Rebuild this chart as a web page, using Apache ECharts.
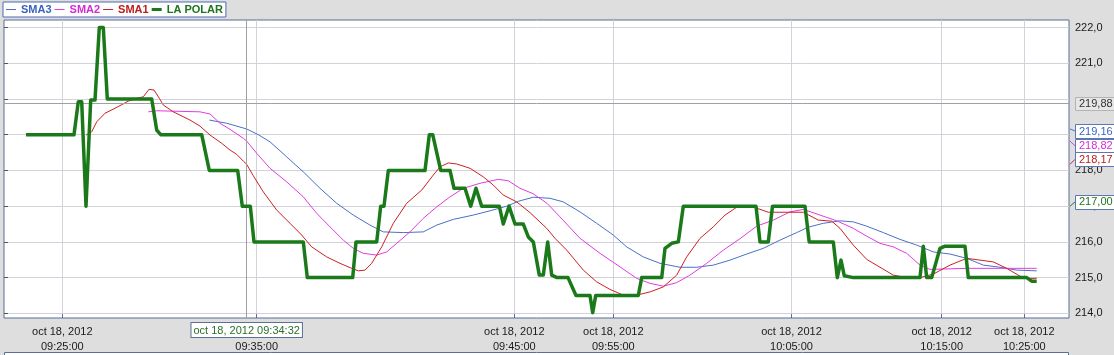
<!DOCTYPE html>
<html>
<head>
<meta charset="utf-8">
<script src="https://cdn.jsdelivr.net/npm/echarts@6/dist/echarts.min.js"></script>
<style>
html,body{margin:0;padding:0;background:#dedede;}
#c{width:1114px;height:355px;}
</style>
</head>
<body>
<div id="c"></div>
<script>
// ---- data (x = trade sequence position, y = price) ----
const xTickValues = [58.3, 252.7, 510.3, 609.3, 787.5, 937.7, 1020.3];
const xTickDate = 'oct 18, 2012';
const xTickTimes = ['09:25:00', '09:35:00', '09:45:00', '09:55:00', '10:05:00', '10:15:00', '10:25:00'];
const yTickValues = [214, 215, 216, 217, 218, 219, 220, 221, 222];

const laPolar = [[22,219.0],[70,219.0],[74.3,219.92],[77.7,219.92],[82,217.0],[86.7,219.97],[91,219.97],[95.3,222.0],[99.3,222.0],[103.3,220.0],[147.7,220.0],[152.7,219.13],[156.7,219.0],[197.7,219.0],[205.3,218.0],[233.7,218.0],[238.3,217.0],[246.3,217.0],[250,216.0],[299.3,216.0],[303.3,215.0],[348.7,215.0],[352,216.0],[372.7,216.0],[376.7,217.0],[380,217.0],[384.3,218.0],[421,218.0],[425.3,219.0],[428.7,219.0],[436.7,218.0],[446,218.0],[450,217.5],[461,217.5],[466.7,217.0],[472,217.5],[477.7,217.0],[495.3,217.0],[499.3,216.5],[505,217.0],[511,216.5],[519.3,216.5],[524.3,216.14],[529.3,216.0],[535.3,215.07],[539.3,215.07],[543.7,216.0],[547.7,215.07],[553,215.0],[564,215.0],[572,214.5],[586,214.5],[588.7,214.02],[591.7,214.5],[634.3,214.5],[637.7,215.0],[657.7,215.0],[661,215.82],[667.7,215.96],[674.3,216.0],[679.3,217.0],[752,217.0],[756,216.0],[764.3,216.0],[768.5,217.0],[801,217.0],[805.2,216.0],[829.3,216.0],[833.3,215.0],[837,215.49],[840.3,215.05],[849.3,215.0],[916,215.0],[919.3,215.88],[922.7,215.0],[927.7,215.0],[936,215.82],[941,215.88],[961,215.88],[964.3,215.0],[1022.7,215.0],[1027.7,214.9],[1032.7,214.9]];

const sma1 = [[82,218.99],[87.7,219.08],[92.7,219.36],[101,219.6],[111,219.74],[124.3,219.94],[132.7,220.02],[139.3,220.06],[145,220.27],[150,220.25],[155.3,220.02],[159.3,219.83],[169.3,219.64],[186,219.41],[196,219.24],[206,218.99],[217.7,218.76],[226,218.57],[232.7,218.45],[239.3,218.26],[242.7,218.17],[249.3,217.85],[259.3,217.4],[272.7,216.89],[286,216.52],[297.7,216.19],[307.7,215.86],[322.7,215.58],[336,215.4],[347.7,215.26],[354.3,215.19],[361,215.21],[367.7,215.4],[377.7,215.86],[389.3,216.52],[402.7,217.08],[417.7,217.45],[429.3,217.87],[436,218.1],[444.3,218.21],[452.7,218.18],[466,218.06],[479.3,217.82],[489.3,217.59],[499.3,217.31],[512.7,217.12],[526,216.82],[542.7,216.38],[551,216.1],[562.7,215.77],[579.3,215.21],[592.7,214.88],[606,214.67],[619.3,214.51],[632.7,214.51],[646,214.6],[659.3,214.74],[672.7,215.07],[682.7,215.58],[696,216.1],[709.3,216.42],[721,216.75],[732.7,216.97],[744,217.0],[752,216.95],[764.3,216.83],[799.3,216.83],[814.3,216.61],[827.7,216.58],[836,216.38],[849.3,215.91],[862.7,215.51],[876,215.29],[889.3,215.07],[902.7,215.0],[916,215.0],[929.3,215.1],[946,215.35],[962.7,215.54],[976,215.49],[989.3,215.44],[1002.7,215.26],[1016,215.04],[1026,214.98],[1032.7,214.98]];

const sma2 = [[144.3,219.64],[152.7,219.67],[196,219.64],[206,219.58],[216,219.32],[226,219.15],[239.3,218.9],[242.7,218.82],[252.7,218.48],[266,218.06],[282.7,217.68],[299.3,217.26],[312.7,216.8],[326,216.42],[339.3,216.05],[349.3,215.82],[359.3,215.68],[372.7,215.63],[382.7,215.72],[392.7,215.96],[406,216.28],[419.3,216.66],[432.7,216.98],[446,217.26],[459.3,217.5],[476,217.64],[494.3,217.75],[504.3,217.71],[516,217.5],[529,217.35],[543,217.08],[556,216.7],[576,216.1],[596,215.68],[616,215.3],[632.7,214.98],[646,214.84],[659.3,214.76],[672.7,214.86],[686,215.07],[702.7,215.4],[719.3,215.77],[736,216.09],[752.7,216.44],[769.3,216.61],[786,216.84],[799.3,216.91],[816,216.75],[832.7,216.59],[849.3,216.38],[862.7,216.16],[876,215.96],[889.3,215.86],[902.7,215.68],[916,215.35],[926,215.23],[962.7,215.26],[1032.7,215.26]];

const sma3 = [[205.3,219.41],[222.7,219.32],[242.7,219.16],[254.3,219.0],[266,218.8],[282.7,218.38],[299.3,217.96],[316,217.5],[332.7,217.08],[349.3,216.75],[366,216.47],[379.3,216.28],[399.3,216.26],[419.3,216.28],[432.7,216.47],[449.3,216.63],[469.3,216.75],[486,216.87],[502.7,217.0],[514.7,217.14],[529.3,217.25],[546,217.22],[559.3,217.12],[576,216.84],[592.7,216.52],[609.3,216.19],[622.7,215.86],[639.3,215.58],[656,215.4],[676,215.29],[692.7,215.29],[709.3,215.35],[726,215.49],[742.7,215.66],[759.3,215.82],[776,216.05],[792.7,216.26],[804,216.41],[819.3,216.52],[836,216.59],[849.3,216.56],[862.7,216.44],[879.3,216.26],[896,216.07],[912.7,215.91],[929.3,215.72],[946,215.66],[962.7,215.54],[979.3,215.35],[996,215.29],[1012.7,215.21],[1032.7,215.19]];

// crosshair
const crossX = 242.7;
const crossY = 219.88;
const crossXLabel = 'oct 18, 2012 09:34:32';
// values of each series at the crosshair
const tagNames = ['SMA3', 'SMA2', 'SMA1', 'LA POLAR'];
const tagValues = [219.16, 218.82, 218.17, 217.00];

// ---- styles ----
const FONT = '"Liberation Sans", Arial, sans-serif';
const colors = { 'SMA3': '#4a70c8', 'SMA2': '#e03ce0', 'SMA1': '#cc2222', 'LA POLAR': '#1a7a1a' };
const textColors = { 'SMA3': '#3a62c0', 'SMA2': '#d42ad4', 'SMA1': '#c01c1c', 'LA POLAR': '#1d751d' };
const tagOffsets = [2, 4.6, -5, -4.2];
const fmtNum = (v, d) => v.toFixed(d).replace('.', ',');
// axis labels hidden where the crosshair price box covers them
const yLabelValues = yTickValues.filter(v => Math.abs(v - crossY) > 0.3);

const chart = echarts.init(document.getElementById('c'), null, { renderer: 'canvas' });

function lineSeries(name, data, width, z) {
  return {
    name, type: 'line', data, z,
    showSymbol: false, symbol: 'none', silent: true,
    itemStyle: { color: colors[name] },
    lineStyle: { color: colors[name], width, join: 'round' },
    emphasis: { disabled: true }
  };
}

const polarSeries = lineSeries('LA POLAR', laPolar, 3.5, 5);
polarSeries.markLine = {
  silent: true, symbol: ['none', 'none'], animation: false,
  lineStyle: { color: '#a0a0a0', width: 1, type: 'solid' },
  emphasis: { disabled: true },
  data: [
    { xAxis: crossX, label: { show: true, position: 'start', distance: 5, formatter: crossXLabel,
        color: '#2a6e2a', fontFamily: FONT, fontSize: 11, backgroundColor: '#ffffff',
        borderColor: '#5a7098', borderWidth: 1, padding: [2, 2, 1, 2] } },
    { yAxis: crossY, label: { show: false } }
  ]
};

const legendIcon = n => n === 'LA POLAR' ? 'path://M0,0L10,0L10,3L0,3Z' : 'path://M0,0L10,0L10,1L0,1Z';

const option = {
  animation: false,
  backgroundColor: '#dedede',
  textStyle: { fontFamily: FONT },
  legend: {
    left: 3, top: 2, orient: 'horizontal',
    padding: [2, 3, 2, 3], itemGap: 3, itemWidth: 10, itemHeight: 12,
    backgroundColor: '#ffffff', borderColor: '#4a6cb4', borderWidth: 1,
    selectedMode: false, symbolKeepAspect: true,
    textStyle: { fontFamily: FONT, fontSize: 11, fontWeight: 'bold' },
    data: tagNames.map(n => ({ name: n, icon: legendIcon(n), textStyle: { color: textColors[n], fontWeight: 'bold', fontSize: 11, fontFamily: FONT } }))
  },
  grid: {
    left: 4, right: 45, top: 20, bottom: 37,
    show: true, backgroundColor: '#ffffff', borderColor: '#5a6e98', borderWidth: 1,
    containLabel: false
  },
  xAxis: {
    type: 'value', min: 0, max: 1065,
    axisLine: { show: false },
    axisTick: { show: true, inside: true, length: 4, customValues: xTickValues, lineStyle: { color: '#5a6e98' } },
    axisLabel: {
      customValues: xTickValues, margin: 7, color: '#1a1a1a', fontSize: 11, fontFamily: FONT, lineHeight: 14.5,
      formatter: v => {
        let i = 0, best = Infinity;
        xTickValues.forEach((t, k) => { const d = Math.abs(t - v); if (d < best) { best = d; i = k; } });
        return xTickDate + '\n' + xTickTimes[i];
      }
    },
    splitLine: { show: true, lineStyle: { color: '#d2d2da', width: 1 } }
  },
  yAxis: {
    type: 'value', position: 'right', min: 213.87, max: 222.21, scale: true,
    axisLine: { show: false },
    axisTick: { show: true, inside: false, length: 4, customValues: yTickValues, lineStyle: { color: '#555555' } },
    axisLabel: { customValues: yLabelValues, margin: 6, color: '#1a1a1a', fontSize: 11, fontFamily: FONT,
      formatter: v => fmtNum(v, 1) },
    splitLine: { show: true, lineStyle: { color: '#d2d2da', width: 1 } }
  },
  series: [
    lineSeries('SMA3', sma3, 1, 2),
    lineSeries('SMA2', sma2, 1, 3),
    lineSeries('SMA1', sma1, 1, 4),
    polarSeries
  ]
};

chart.setOption(option);

// value tags at the right edge (crosshair values), positioned through the y scale
const gridRight = 1114 - 45;
const graphics = [];
// crosshair price label
const yCross = chart.convertToPixel({ yAxisIndex: 0 }, crossY);
graphics.push({
  type: 'rect', silent: true, z: 100,
  shape: { x: gridRight + 6.5, y: Math.round(yCross - 6.5) + 0.5, width: 45, height: 13 },
  style: { fill: '#e6e6e6', stroke: '#b4b4b4', lineWidth: 1 }
});
graphics.push({
  type: 'text', silent: true, z: 101,
  x: gridRight + 10, y: yCross + 1,
  style: { text: fmtNum(crossY, 2), fill: '#333333', font: '11px ' + FONT, verticalAlign: 'middle', align: 'left' }
});
tagNames.forEach((n, i) => {
  const yNat = chart.convertToPixel({ yAxisIndex: 0 }, tagValues[i]);
  const yc = yNat + tagOffsets[i];
  graphics.push({
    type: 'line', silent: true, z: 100,
    shape: { x1: gridRight + 1, y1: yNat, x2: gridRight + 6, y2: yc },
    style: { stroke: colors[n], lineWidth: 1 }
  });
  graphics.push({
    type: 'rect', silent: true, z: 100,
    shape: { x: gridRight + 6.5, y: Math.round(yc - 7) + 0.5, width: 45, height: 14 },
    style: { fill: '#ffffff', stroke: '#5a78b4', lineWidth: 1 }
  });
  graphics.push({
    type: 'text', silent: true, z: 101,
    x: gridRight + 10, y: yc + 0.5,
    style: { text: fmtNum(tagValues[i], 2), fill: textColors[n], font: '11px ' + FONT, verticalAlign: 'middle', align: 'left' }
  });
});
// top edge of the lower panel
graphics.push({
  type: 'rect', silent: true, z: 0,
  shape: { x: 4.5, y: 352.5, width: 1064, height: 20 },
  style: { fill: '#ffffff', stroke: '#5a6e98', lineWidth: 1 }
});
chart.setOption({ graphic: graphics });
</script>
</body>
</html>
